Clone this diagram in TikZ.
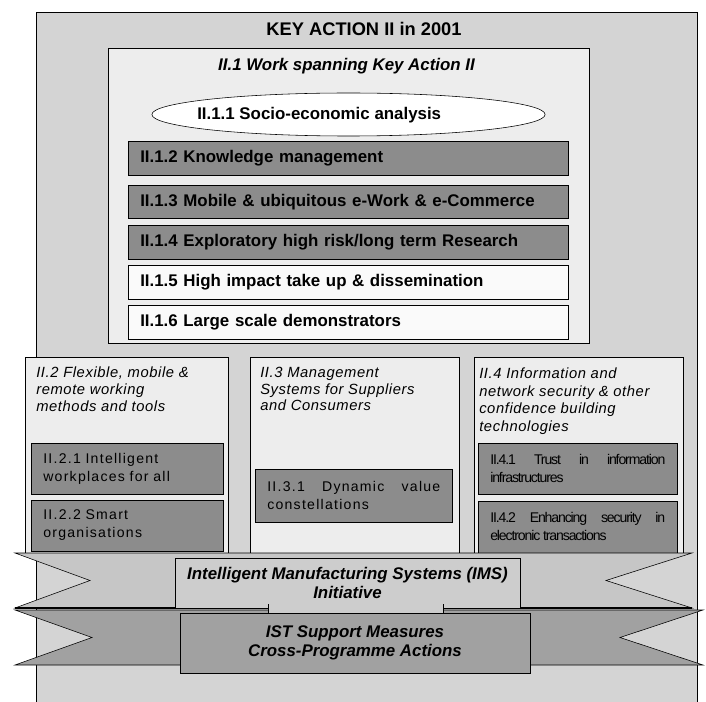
\documentclass[tikz,border=0pt]{standalone}
\usepackage{fontspec}
\setmainfont{Liberation Sans}
\newfontfamily\headfont[LetterSpace=4]{Liberation Sans}
\newfontfamily\spacedfont[LetterSpace=9]{Liberation Sans}
\newfontfamily\tightfont[LetterSpace=-8]{Liberation Sans}
\usetikzlibrary{positioning,shapes.geometric}
\tolerance=9999
\hbadness=10000

\definecolor{bggray}{HTML}{D4D4D4}
\definecolor{panelgray}{HTML}{EDEDED}
\definecolor{boxgray}{HTML}{8C8C8C}
\definecolor{paleboxgray}{HTML}{FAFAFA}
\definecolor{ribbonlight}{HTML}{C6C6C6}
\definecolor{imsgray}{HTML}{CDCDCD}
\definecolor{ribbondark}{HTML}{A1A1A1}

\begin{document}
\begin{tikzpicture}[
        x=0.025cm, y=-0.025cm,
        node distance=0.15cm,
        panel/.style={draw,fill=panelgray,inner sep=0pt},
        itembox/.style={draw,fill=boxgray,anchor=north west,minimum width=11cm,minimum height=0.84cm,
            text width=10.4cm,inner xsep=0.3cm,inner ysep=0pt,align=left,
            font=\bfseries\fontsize{12}{14}\selectfont},
        subbox/.style={draw,fill=boxgray,anchor=north west,inner xsep=0.3cm,inner ysep=0pt,align=left,
            font=\spacedfont\fontsize{10}{12.8}\selectfont},
        headtext/.style={anchor=north west,inner sep=0pt,align=left,
            font=\headfont\itshape\fontsize{10.5}{11.8}\selectfont},
        ribbontext/.style={draw,align=center,font=\bfseries\itshape\fontsize{12}{13.5}\selectfont}
    ]
    \useasboundingbox (0,0) rectangle (706,702);
    \draw[fill=bggray] (36,702) |- (697,12) -- (697,702);
    \node[anchor=base,font=\bfseries\fontsize{13}{15}\selectfont] (title) at (364,36) {KEY ACTION II in 2001};

    % II.1 work spanning the key action
    \node[panel,anchor=north west,minimum width=12.025cm,minimum height=7.375cm] (p1) at (108,48) {};
    \node[anchor=base,font=\bfseries\itshape\fontsize{12}{14}\selectfont] (p1h) at (346.5,71) {II.1 Work spanning Key Action II};
    \node[ellipse,draw,fill=white,minimum width=9.83cm,minimum height=1.075cm] (k1) at (348.5,114.5) {};
    \node[anchor=base west,inner sep=0pt,font=\bfseries\fontsize{12}{14}\selectfont] (k1t) at (197,119.5) {II.1.1 Socio-economic analysis};
    \node[itembox] (k2) at (128,141) {II.1.2 Knowledge management};
    \node[itembox,below=0.24cm of k2] (k3) {II.1.3 Mobile \& ubiquitous e-Work \& e-Commerce};
    \node[itembox,below=of k3] (k4) {II.1.4 Exploratory high risk/long term Research};
    \node[itembox,fill=paleboxgray,below=of k4] (k5) {II.1.5 High impact take up \& dissemination};
    \node[itembox,fill=paleboxgray,below=of k5] (k6) {II.1.6 Large scale demonstrators};

    % the three columns
    \node[panel,anchor=north west,minimum width=5.075cm,minimum height=4.9cm] (p2) at (25,357) {};
    \node[panel,minimum width=5.225cm,minimum height=4.9cm,right=0.525cm of p2] (p3) {};
    \node[panel,minimum width=5.225cm,minimum height=4.9cm,right=0.375cm of p3] (p4) {};
    \node[headtext] (p2h) at (36,367) {II.2 Flexible, mobile \&\\remote working\\methods and tools};
    \node[headtext] (p3h) at (260,367) {II.3 Management\\Systems for Suppliers\\and Consumers};
    \node[headtext,font=\headfont\itshape\fontsize{10.5}{12.4}\selectfont] (p4h) at (479,368) {II.4 Information and\\network security \& other\\confidence building\\technologies};

    \node[subbox,text width=4.2cm,minimum height=1.275cm] (s21) at (31,443) {II.2.1 Intelligent\\workplaces for all};
    \node[subbox,text width=4.2cm,minimum height=1.275cm,below=0.125cm of s21] (s22) {II.2.2 Smart\\organisations};
    \node[subbox,text width=4.325cm,minimum height=1.325cm,align=justify] (s31) at (255,469) {II.3.1 Dynamic value\linebreak constellations};
    \node[subbox,text width=4.375cm,minimum height=1.275cm,align=justify,
        font=\tightfont\fontsize{10}{12.8}\selectfont] (s41) at (478,443) {II.4.1 Trust in information\linebreak infrastructures};
    \node[subbox,text width=4.375cm,minimum height=1.3cm,align=justify,below=0.15cm of s41,
        font=\tightfont\fontsize{10}{12.8}\selectfont] (s42) {II.4.2 Enhancing security in\linebreak electronic transactions};

    % ribbons
    \draw[fill=ribbondark] (15,610) -- (703,610) -- (620,637.5) -- (703,665) -- (15,665) -- (92,637.5) -- cycle;
    \node[ribbontext,fill=ribbondark,minimum width=8.75cm,minimum height=1.5cm] (ist) at (355,643) {IST Support Measures\\Cross-Programme Actions};
    \draw[fill=ribbonlight] (15,553) -- (692,553) -- (606,580.5) -- (692,608) -- (15,608) -- (90,580.5) -- cycle;
    \draw[line width=1.2pt] (15,608) -- (692,608);
    \node[ribbontext,fill=imsgray,minimum width=8.625cm,minimum height=1.25cm] (ims) at (347.5,583) {Intelligent Manufacturing Systems (IMS)\\Initiative};
    \filldraw[fill=imsgray] (268,604) -- (268,613) -- (443,613) -- (443,604);
\end{tikzpicture}
\end{document}
